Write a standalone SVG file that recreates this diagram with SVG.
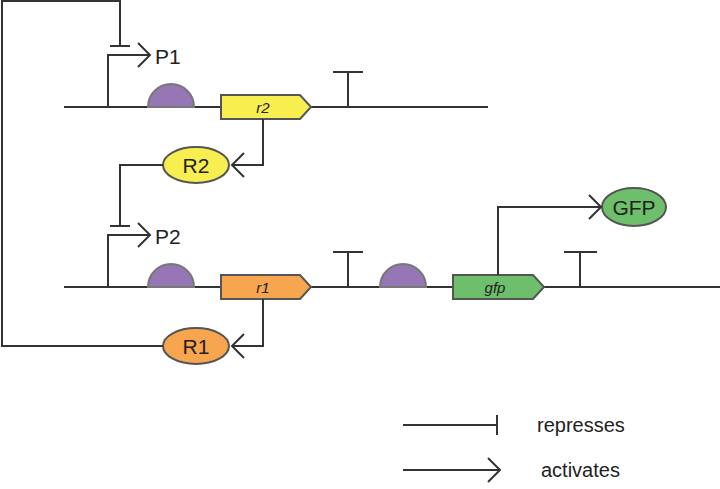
<svg xmlns="http://www.w3.org/2000/svg" width="720" height="489" viewBox="0 0 720 489">
<style>
.l{fill:none;stroke:#333;stroke-width:2}
.t{font-family:"Liberation Sans",Arial,sans-serif;fill:#222}
.rbs{fill:#9676b5;stroke:#777;stroke-width:2}
.g{stroke:#555;stroke-width:2}
</style>
<defs>
<marker id="a" markerWidth="16" markerHeight="26" refX="14" refY="13" orient="auto" markerUnits="userSpaceOnUse"><path d="M2,1 L14,13 L2,25" fill="none" stroke="#333" stroke-width="2"/></marker>
<marker id="b" markerWidth="4" markerHeight="24" refX="2" refY="12" orient="auto" markerUnits="userSpaceOnUse"><path d="M2,2 L2,22" stroke="#333" stroke-width="2"/></marker>
</defs>
<g id="backbone">
<path class="l" d="M64,107 H488 M64,287 H720"/>
</g>
<g id="P1"><text class="t" x="155" y="64" font-size="21">P1</text></g>
<g id="P2"><text class="t" x="155" y="244" font-size="21">P2</text></g>
<g id="rbs1"><path class="rbs" d="M148,107 A23,23 0 0 1 194,107 Z"/></g>
<g id="rbs2"><path class="rbs" d="M148,287 A23,23 0 0 1 194,287 Z"/></g>
<g id="rbs3"><path class="rbs" d="M380,287 A23,23 0 0 1 426,287 Z"/></g>
<g id="r2"><path class="g" fill="#f7ef4f" d="M221,95 H300 L311,107 L300,119 H221 Z"/><text class="t" x="263" y="113" font-size="15" font-style="italic" text-anchor="middle">r2</text></g>
<g id="r1"><path class="g" fill="#f7a54f" d="M221,275 H300 L311,287 L300,299 H221 Z"/><text class="t" x="263" y="293" font-size="15" font-style="italic" text-anchor="middle">r1</text></g>
<g id="gfp"><path class="g" fill="#6dbf6b" d="M453,275 H533 L544,287 L533,299 H453 Z"/><text class="t" x="495" y="293" font-size="15" font-style="italic" text-anchor="middle">gfp</text></g>
<g id="T1"><path class="l" d="M348,107 V72 M333,72 H363"/></g>
<g id="T2"><path class="l" d="M348,287 V252 M333,252 H363"/></g>
<g id="T3"><path class="l" d="M580,287 V252 M564,252 H597"/></g>
<g id="R2"><ellipse class="g" fill="#f7ef4f" cx="196" cy="165" rx="33" ry="18"/><text class="t" x="196" y="173" font-size="21" text-anchor="middle">R2</text></g>
<g id="R1"><ellipse class="g" fill="#f7a54f" cx="196" cy="346" rx="33" ry="18"/><text class="t" x="196" y="354" font-size="21" text-anchor="middle">R1</text></g>
<g id="GFP"><ellipse class="g" fill="#6dbf6b" cx="634" cy="207" rx="32" ry="19"/><text class="t" x="634" y="215" font-size="21" text-anchor="middle">GFP</text></g>
<g id="connectors">
<path class="l" d="M108,107 V55 H150" marker-end="url(#a)"/>
<path class="l" d="M108,287 V235 H150" marker-end="url(#a)"/>
<path class="l" d="M263,119 V165 H232" marker-end="url(#a)"/>
<path class="l" d="M263,299 V346 H232" marker-end="url(#a)"/>
<path class="l" d="M498,275 V207 H601" marker-end="url(#a)"/>
<path class="l" d="M163,165 H120 V226" marker-end="url(#b)"/>
<path class="l" d="M163,346 H2 V1 H120 V46" marker-end="url(#b)"/>
</g>
<g id="legend">
<path class="l" d="M403,425 H497" marker-end="url(#b)"/>
<path class="l" d="M403,470 H500" marker-end="url(#a)"/>
<text class="t" x="537" y="432" font-size="20">represses</text>
<text class="t" x="541" y="477" font-size="20">activates</text>
</g>
</svg>
